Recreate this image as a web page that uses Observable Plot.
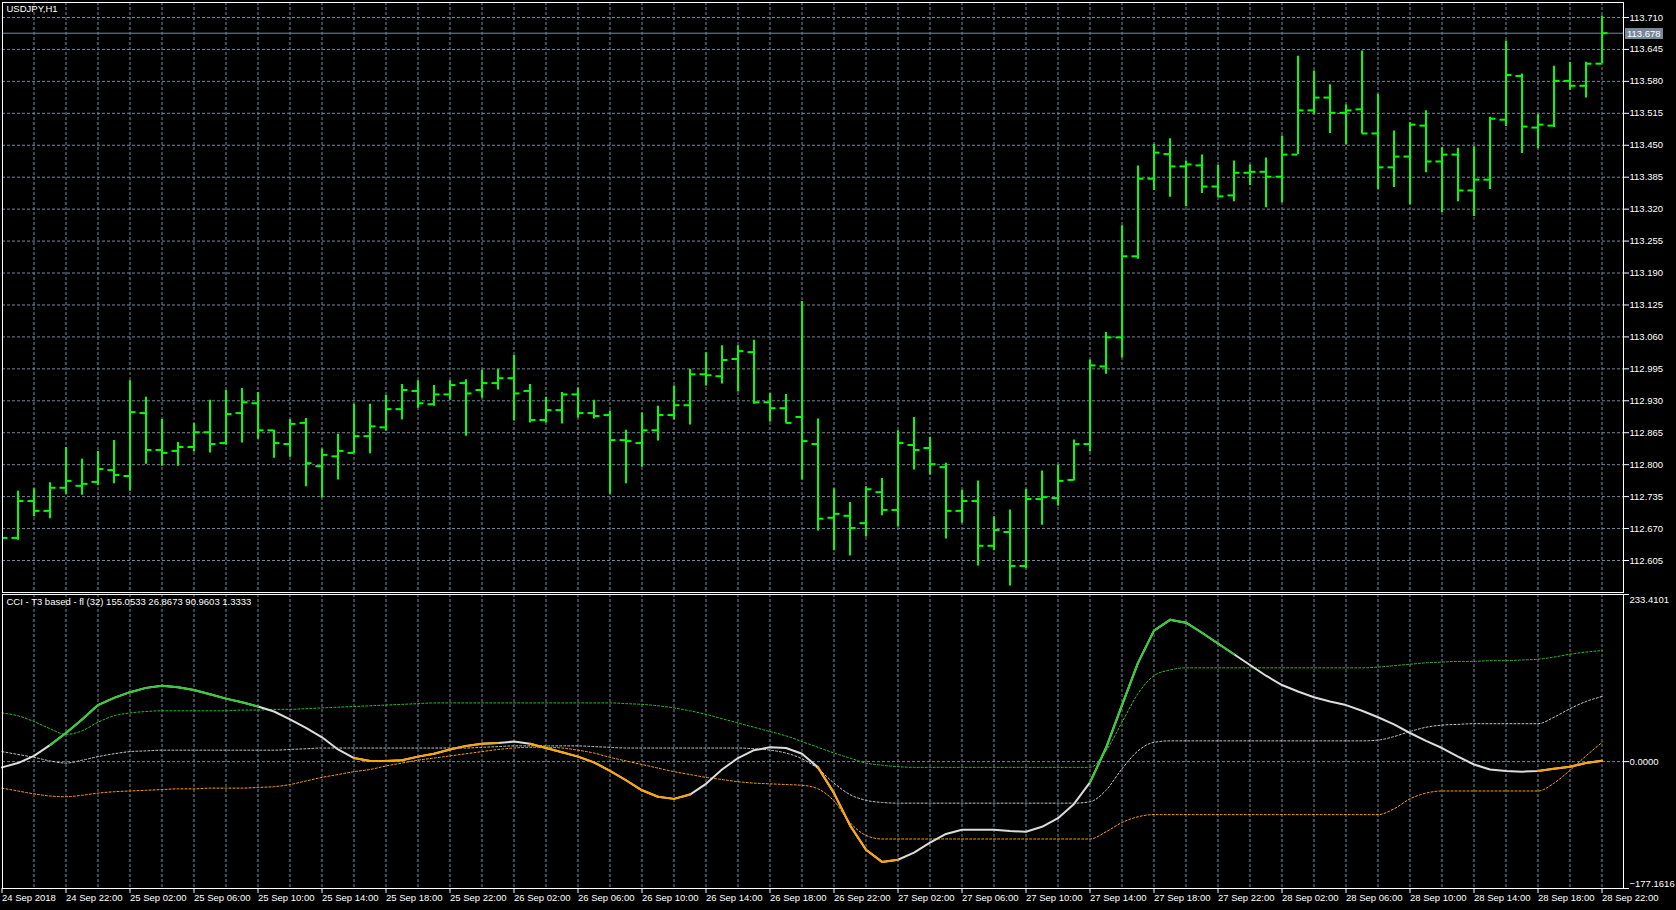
<!DOCTYPE html>
<html><head><meta charset="utf-8">
<script src="https://cdn.jsdelivr.net/npm/d3@7"></script>
<script src="https://cdn.jsdelivr.net/npm/@observablehq/plot@0.6"></script>
<style>
html,body{margin:0;padding:0;background:#000;}
#chart{position:relative;width:1676px;height:910px;overflow:hidden;background:#000;}
#chart svg{display:block;}
#pricebox{position:absolute;background:#778899;color:#fff;font:9.5px "Liberation Sans",Arial,sans-serif;line-height:11px;height:11px;padding:0 2px;}
</style></head><body><div id="chart"></div>
<script>
const symbolTitle = "USDJPY,H1";
const indicatorTitle = "CCI - T3 based - fl (32) 155.0533 26.8673 90.9603 1.3333";
const firstBar = "2018-09-24T18:00:00Z";
const lastPrice = 113.678;

const openP = [112.660,112.651,112.726,112.706,112.753,112.757,112.765,112.789,112.777,112.905,
112.830,112.828,112.836,112.866,112.844,112.905,112.925,112.870,112.842,112.885,
112.797,112.817,112.824,112.858,112.876,112.913,112.950,112.923,112.943,112.966,
112.952,112.966,112.976,112.950,112.891,112.911,112.943,112.905,112.901,112.850,
112.844,112.870,112.901,112.921,112.984,112.980,113.015,113.029,112.927,112.915,
112.897,112.842,112.692,112.696,112.681,112.744,112.708,112.840,112.834,112.795,
112.706,112.726,112.635,112.663,112.594,112.730,112.732,112.769,112.842,113.000,
113.059,113.224,113.382,113.432,113.407,113.409,113.366,113.348,113.394,113.396,
113.386,113.431,113.521,113.547,113.516,113.523,113.474,113.405,113.427,113.490,
113.417,113.431,113.358,113.380,113.502,113.591,113.486,113.490,113.581,113.571,113.616];
const highP = [112.668,112.746,112.751,112.763,112.835,112.811,112.827,112.849,112.971,112.937,
112.892,112.845,112.884,112.931,112.951,112.955,112.947,112.870,112.892,112.894,
112.832,112.862,112.923,112.923,112.941,112.963,112.971,112.961,112.971,112.973,
112.992,112.994,113.022,112.963,112.937,112.947,112.956,112.931,112.909,112.870,
112.905,112.919,112.960,112.994,113.028,113.042,113.042,113.053,112.945,112.943,
113.132,112.893,112.751,112.723,112.755,112.772,112.869,112.896,112.856,112.803,
112.748,112.767,112.694,112.708,112.750,112.787,112.799,112.850,113.013,113.069,
113.286,113.408,113.452,113.463,113.418,113.430,113.409,113.418,113.410,113.424,
113.469,113.631,113.601,113.573,113.532,113.642,113.554,113.479,113.496,113.520,
113.445,113.444,113.447,113.507,113.662,113.595,113.512,113.611,113.619,113.619,113.713];
const lowP = [112.645,112.646,112.694,112.690,112.740,112.738,112.757,112.761,112.746,112.801,
112.797,112.797,112.826,112.824,112.840,112.844,112.852,112.813,112.815,112.755,
112.732,112.769,112.822,112.822,112.868,112.891,112.915,112.919,112.931,112.858,
112.935,112.952,112.889,112.885,112.885,112.883,112.895,112.893,112.740,112.761,
112.795,112.848,112.891,112.881,112.960,112.964,112.948,112.923,112.887,112.885,
112.769,112.665,112.625,112.614,112.653,112.696,112.673,112.789,112.779,112.649,
112.681,112.594,112.625,112.553,112.588,112.677,112.716,112.767,112.826,112.984,
113.017,113.218,113.358,113.344,113.325,113.352,113.344,113.335,113.368,113.323,
113.333,113.431,113.512,113.474,113.451,113.474,113.360,113.364,113.329,113.394,
113.313,113.335,113.305,113.360,113.488,113.433,113.443,113.486,113.562,113.546,113.616];
const closeP = [112.651,112.726,112.706,112.753,112.767,112.761,112.791,112.779,112.907,112.830,
112.824,112.836,112.866,112.842,112.903,112.927,112.870,112.844,112.883,112.803,
112.820,112.828,112.858,112.878,112.913,112.952,112.925,112.943,112.962,112.945,
112.966,112.976,112.945,112.891,112.911,112.943,112.905,112.899,112.850,112.848,
112.870,112.901,112.921,112.984,112.982,113.013,113.031,112.927,112.915,112.885,
112.848,112.690,112.700,112.671,112.750,112.708,112.844,112.830,112.801,112.706,
112.726,112.635,112.667,112.594,112.730,112.734,112.767,112.842,113.002,113.059,
113.224,113.382,113.435,113.407,113.411,113.366,113.346,113.394,113.396,113.386,
113.431,113.521,113.547,113.516,113.521,113.474,113.405,113.427,113.492,113.417,
113.431,113.358,113.380,113.504,113.593,113.488,113.492,113.581,113.571,113.616,113.678];

const cciMain = [-8,-2,8,23,40,59,79,89,97,103,
106,104,100,94,88,83,77,70,59,47,
34,17,5,1,1,2,7,11,17,22,
25,26,28,25,19,13,7,-1,-13,-26,
-40,-49,-52,-46,-31,-11,5,16,20,19,
11,-8,-44,-89,-123,-140,-137,-127,-113,-101,
-95,-95,-95,-97,-98,-91,-79,-59,-29,19,
79,138,183,198,194,180,165,150,135,120,
107,98,90,84,79,71,62,52,40,29,
19,7,-4,-11,-13,-14,-13,-10,-7,-2,1.3333];
// colour state of the main line on each bar: g = above upper level, o = lower, w = neutral
const cciState = ["w","w","w","w","g","g","g","g","g","g",
"g","g","g","g","g","g","g","w","w","w",
"w","w","w","o","o","o","o","o","o","o",
"o","o","w","w","o","o","o","o","o","o",
"o","o","o","o","w","w","w","w","w","w",
"w","w","o","o","o","o","o","w","w","w",
"w","w","w","w","w","w","w","w","w","g",
"g","g","g","g","g","g","g","g","w","w",
"w","w","w","w","w","w","w","w","w","w",
"w","w","w","w","w","w","w","o","o","o","o"];
const cciUp = [68,64,56,46,38,43,55,64,68,70,
71,71,71,71,71,72,72,73,73,74,
75,76,77,78,79,80,81,82,82,82,
82,82,82,82,82,82,82,82,82,81,
80,78,75,71,66,60,54,48,42,36,
28,20,12,5,-2,-5,-7,-8,-8,-8,
-8,-8,-8,-8,-8,-8,-8,-8,-8,15,
55,95,120,128,131,131,131,131,131,131,
131,131,131,131,131,131,132,134,136,138,
139,140,140,141,141,142,143,146,150,153,155.0533];
const cciMid = [14,10,6,1,-2,2,7,11,14,15,
16,16,16,16,16,16,16,16,17,18,
19,19,19,19,19,19,19,19,19,19,
20,21,22,22,22,22,22,21,20,19,
19,19,19,19,19,19,19,18,16,12,
4,-10,-30,-46,-54,-57,-58,-58,-58,-58,
-58,-58,-58,-58,-58,-58,-58,-58,-56,-40,
-10,15,27,29,29,29,29,29,29,29,
29,29,29,29,29,29,30,35,42,48,
51,52,53,53,53,53,53,62,74,84,90.9603];
const cciDn = [-37,-41,-45,-48,-49,-47,-44,-42,-41,-40,
-39,-38,-38,-37,-37,-37,-36,-35,-32,-27,
-22,-18,-14,-11,-6,-2,2,5,8,11,
14,17,19,20,20,19,16,12,6,1,
-4,-9,-14,-18,-22,-25,-28,-30,-31,-32,
-33,-38,-55,-85,-103,-108,-108,-108,-108,-108,
-108,-108,-108,-108,-108,-108,-108,-108,-108,-98,
-85,-77,-74,-74,-74,-74,-74,-74,-74,-74,
-74,-74,-74,-74,-74,-74,-74,-66,-52,-44,
-41,-41,-41,-41,-41,-41,-41,-30,-12,8,26.8673];

const priceTicks = [112.605,112.670,112.735,112.800,112.865,112.930,112.995,113.060,113.125,113.190,113.255,113.320,113.385,113.450,113.515,113.580,113.645,113.710];
const cciTicks = [233.4101, 0, -177.1616];
const stateColors = {g: "#32cd32", o: "#ffa500"};

// ---------- derived ----------
const HOUR = 3600e3;
const t0 = new Date(firstBar);
const timeAt = (h) => new Date(+t0 + h * HOUR);
const bars = openP.map((o, i) => ({t: timeAt(i), i, o, h: highP[i], l: lowP[i], c: closeP[i]}));
const n = bars.length;
const xDomain = [timeAt(0.5 / 16), timeAt(1621.5 / 16)];
const gridTimes = bars.filter(b => b.i > 0 && b.i % 2 === 0).map(b => b.t);
const labelTimes = bars.filter(b => b.i % 4 === 0).map(b => b.t);
const half = 0.375 * HOUR;
const fmtFirst = d3.utcFormat("%-d %b %Y");
const fmtTime = d3.utcFormat("%-d %b %H:%M");
const xFmt = (d) => (+d === +t0 ? fmtFirst(d) : fmtTime(d));

const FONT = '"Liberation Sans", Arial, sans-serif';
const GRID = "#778899";
const DASH = "3,2";

const topPlot = Plot.plot({
  width: 1676, height: 594,
  marginLeft: 2, marginRight: 53, marginTop: 2, marginBottom: 2,
  style: {background: "#000", color: "#fff", fontFamily: FONT, fontSize: "9.5px"},
  x: {type: "utc", domain: xDomain, axis: null},
  y: {domain: [112.5399, 113.7405], axis: null},
  marks: [
    Plot.gridX(gridTimes, {stroke: GRID, strokeOpacity: 1, strokeDasharray: DASH}),
    Plot.gridY(priceTicks, {stroke: GRID, strokeOpacity: 1, strokeDasharray: DASH}),
    Plot.ruleY([lastPrice], {stroke: GRID, strokeWidth: 1}),
    Plot.ruleX(bars, {x: "t", y1: "l", y2: "h", stroke: "#00ff00", strokeWidth: 2, clip: true}),
    Plot.ruleY(bars, {y: "o", x1: d => new Date(+d.t - half), x2: "t", stroke: "#00ff00", strokeWidth: 2, clip: true}),
    Plot.ruleY(bars, {y: "c", x1: "t", x2: d => new Date(+d.t + half), stroke: "#00ff00", strokeWidth: 2, clip: true}),
    Plot.frame({stroke: "#fff"}),
    Plot.axisY({ticks: priceTicks, anchor: "right", tickSize: 5, tickPadding: 1, tickFormat: d3.format(".3f"), label: null}),
    Plot.text([symbolTitle], {frameAnchor: "top-left", textAnchor: "start", lineAnchor: "top", dx: 4, dy: 3, fill: "#fff"})
  ]
});

const idx = d3.range(n);
const segs = idx.slice(1).filter(i => stateColors[cciState[i]]).map(i => ({
  x1: bars[i - 1].t, y1: cciMain[i - 1], x2: bars[i].t, y2: cciMain[i], color: stateColors[cciState[i]]
}));

const bottomPlot = Plot.plot({
  width: 1676, height: 316,
  marginLeft: 2, marginRight: 53, marginTop: 0, marginBottom: 22,
  style: {background: "#000", color: "#fff", fontFamily: FONT, fontSize: "9.5px"},
  x: {type: "utc", domain: xDomain},
  y: {domain: [-177.1616, 233.4101], axis: null},
  color: {type: "identity"},
  marks: [
    Plot.gridX(gridTimes, {stroke: GRID, strokeOpacity: 1, strokeDasharray: DASH}),
    Plot.gridY([0], {stroke: GRID, strokeOpacity: 1, strokeDasharray: DASH}),
    Plot.line(idx, {x: i => bars[i].t, y: i => cciUp[i], stroke: "#2fbf2f", strokeWidth: 1, strokeDasharray: "2,2", curve: "monotone-x"}),
    Plot.line(idx, {x: i => bars[i].t, y: i => cciMid[i], stroke: "#c8c8c8", strokeWidth: 1, strokeDasharray: "2,2", curve: "monotone-x"}),
    Plot.line(idx, {x: i => bars[i].t, y: i => cciDn[i], stroke: "#ffa500", strokeWidth: 1, strokeDasharray: "2,2", curve: "monotone-x"}),
    Plot.line(idx, {x: i => bars[i].t, y: i => cciMain[i], stroke: "#dcdcdc", strokeWidth: 2}),
    Plot.link(segs, {x1: "x1", y1: "y1", x2: "x2", y2: "y2", stroke: "color", strokeWidth: 2, strokeLinecap: "round"}),
    Plot.frame({stroke: "#fff"}),
    Plot.axisY({ticks: cciTicks, anchor: "right", tickSize: 5, tickFormat: () => "", label: null}),
    Plot.text([cciTicks[0]], {y: d => d, text: d => d3.format(".4f")(d), frameAnchor: "right", textAnchor: "start", dx: 6, dy: 5, fill: "#fff"}),
    Plot.text([cciTicks[1]], {y: d => d, text: d => d3.format(".4f")(d), frameAnchor: "right", textAnchor: "start", dx: 6, fill: "#fff"}),
    Plot.text([cciTicks[2]], {y: d => d, text: d => d3.format(".4f")(d), frameAnchor: "right", textAnchor: "start", dx: 6, dy: -5, fill: "#fff"}),
    Plot.axisX({ticks: labelTimes, anchor: "bottom", tickSize: 5, tickPadding: 1, tickFormat: xFmt, textAnchor: "start", label: null}),
    Plot.text([indicatorTitle], {frameAnchor: "top-left", textAnchor: "start", lineAnchor: "top", dx: 4, dy: 4, fill: "#fff"})
  ]
});

const chart = document.getElementById("chart");
chart.appendChild(topPlot);
chart.appendChild(bottomPlot);

const py = topPlot.scale("y").apply(lastPrice);
const box = document.createElement("div");
box.id = "pricebox";
box.textContent = d3.format(".3f")(lastPrice);
box.style.left = "1625px";
box.style.top = (py + 0.5 - 5.5) + "px";
chart.appendChild(box);
</script></body></html>
